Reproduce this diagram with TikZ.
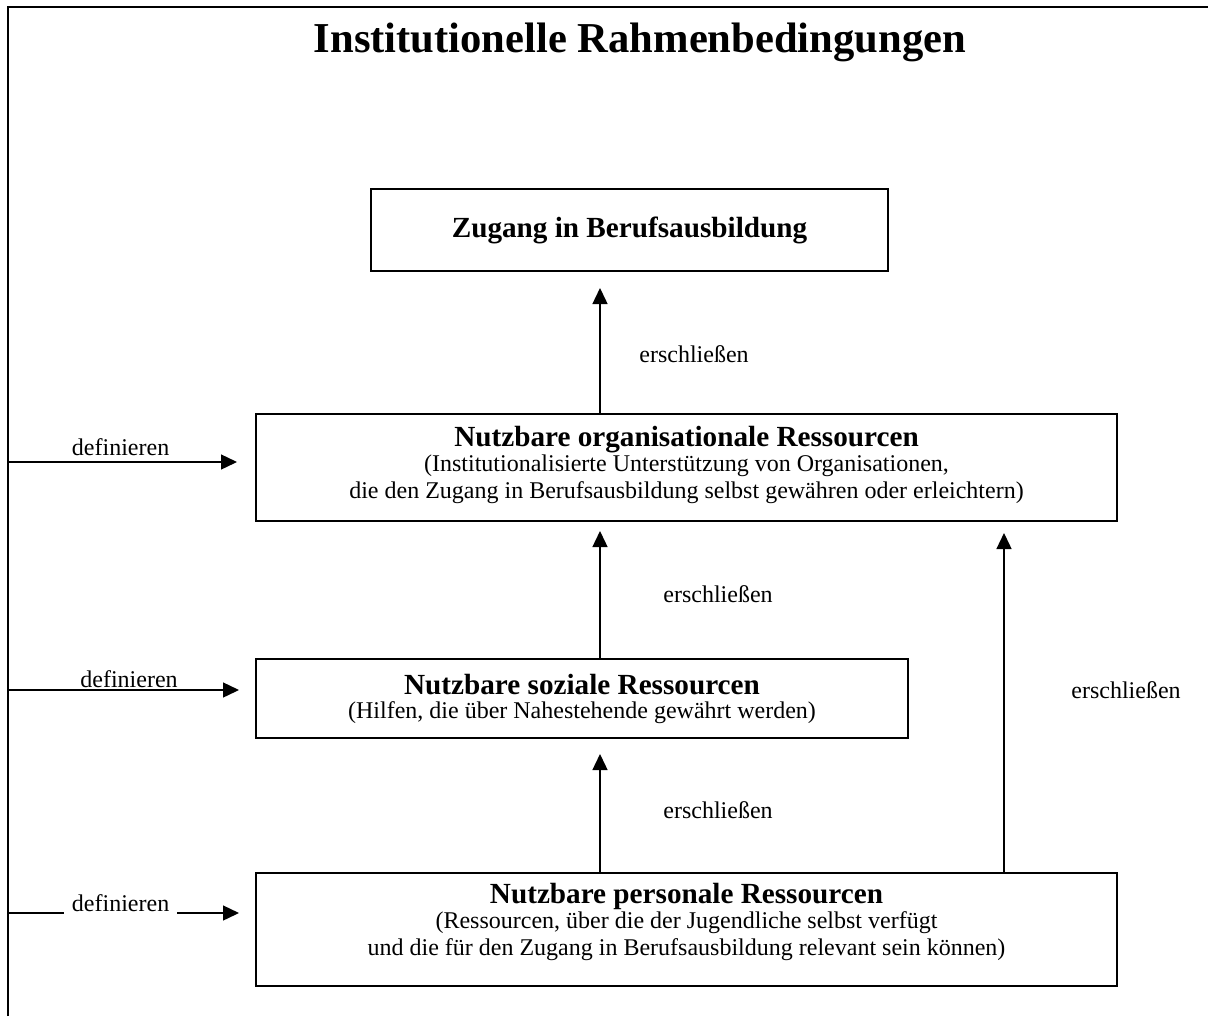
\documentclass[tikz,border=0pt]{standalone}
\usepackage{fontspec}
\setmainfont{Liberation Serif}
\usetikzlibrary{arrows.meta,calc}

\newcommand{\headfont}{\fontsize{14.6}{16}\selectfont\bfseries}

\begin{document}
\begin{tikzpicture}[x=0.5pt,y=-0.5pt]

\tikzstyle{every node}=[font=\fontsize{12}{13.5}\selectfont]
\tikzstyle{box}=[draw, line width=1pt, align=center, inner sep=0pt]
\tikzstyle{flow}=[-{Triangle[length=8pt,width=7.5pt]}, line width=0.7pt]
\tikzstyle{lbl}=[inner sep=1pt]

\useasboundingbox (0,0) rectangle (1208,1016);

% frame and title
\draw[line width=1pt] (8,1016) -- (8,7) -- (1208,7);
\node[anchor=base, font=\fontsize{21.3}{24}\selectfont\bfseries] (title) at (640,53) {Institutionelle Rahmenbedingungen};

% boxes
\node[box, minimum width=258.5pt, minimum height=41pt] (zugang) at (629.5,230) {\headfont Zugang in Berufsausbildung};

\node[box, minimum width=430.5pt, minimum height=53.5pt, text depth=5pt] (org) at (686.5,467.5) {{\headfont Nutzbare organisationale Ressourcen}\\[-1pt]
(Institutionalisierte Unterstützung von Organisationen,\\
die den Zugang in Berufsausbildung selbst gewähren oder erleichtern)};

\node[box, minimum width=326pt, minimum height=39.5pt] (soz) at (582,698.5) {{\headfont Nutzbare soziale Ressourcen}\\[-1.5pt]
(Hilfen, die über Nahestehende gewährt werden)};

\node[box, minimum width=430.5pt, minimum height=56.5pt, text depth=10.5pt] (pers) at (686.5,929.5) {{\headfont Nutzbare personale Ressourcen}\\[-1pt]
(Ressourcen, über die der Jugendliche selbst verfügt\\
und die für den Zugang in Berufsausbildung relevant sein können)};

% erschliessen
\coordinate (midaxis) at (600,0);
\coordinate (rightaxis) at (1004,0);
\draw[flow, shorten >=8pt] (org.north -| midaxis) -- (zugang.south -| midaxis);
\draw[flow, shorten >=4.5pt] (soz.north -| midaxis) -- (org.south -| midaxis);
\draw[flow, shorten >=7.5pt] (pers.north -| midaxis) -- (soz.south -| midaxis);
\draw[flow, shorten >=5.5pt] (pers.north -| rightaxis) -- (org.south -| rightaxis);

\node[lbl] (e1) at (694,354) {erschließen};
\node[lbl] (e2) at (718,594) {erschließen};
\node[lbl] (e3) at (718,810) {erschließen};
\node[lbl] (e4) at (1126,690) {erschließen};

% definieren
\coordinate (def1) at (8,462);
\coordinate (def2) at (8,690);
\coordinate (def3) at (8,913);
\draw[flow, shorten >=9pt] (def1) -- (def1 -| org.west) node[lbl, pos=0.456, above=2pt] {definieren};
\draw[flow, shorten >=8pt] (def2) -- (def2 -| soz.west) node[lbl, pos=0.49, above=0pt] {definieren};
\draw[flow, shorten >=8pt] (def3) -- (def3 -| pers.west) node[pos=0.456, fill=white, inner xsep=4pt, inner ysep=1pt, yshift=5pt] {definieren};

\end{tikzpicture}
\end{document}
